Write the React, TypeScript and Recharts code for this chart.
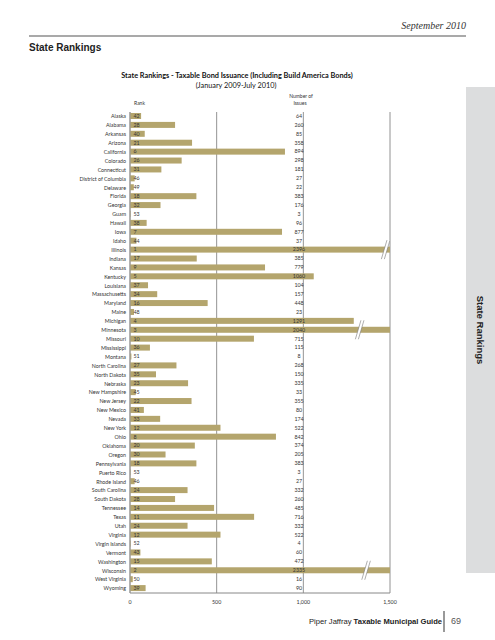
import { Bar, BarChart, CartesianGrid, LabelList, XAxis, YAxis } from "recharts";

const states = [
  "Alaska", "Alabama", "Arkansas", "Arizona", "California", "Colorado", "Connecticut",
  "District of Columbia", "Delaware", "Florida", "Georgia", "Guam", "Hawaii", "Iowa", "Idaho",
  "Illinois", "Indiana", "Kansas", "Kentucky", "Louisiana", "Massachusetts", "Maryland", "Maine",
  "Michigan", "Minnesota", "Missouri", "Mississippi", "Montana", "North Carolina", "North Dakota",
  "Nebraska", "New Hampshire", "New Jersey", "New Mexico", "Nevada", "New York", "Ohio",
  "Oklahoma", "Oregon", "Pennsylvania", "Puerto Rico", "Rhode Island", "South Carolina",
  "South Dakota", "Tennessee", "Texas", "Utah", "Virginia", "Virgin Islands", "Vermont",
  "Washington", "Wisconsin", "West Virginia", "Wyoming",
];

const ranks = [
  42, 28, 40, 21, 6, 26, 31, 46, 49, 18, 32, 53, 38, 7, 44, 1, 17, 9, 5, 37, 34, 16, 48, 4, 3, 10,
  36, 51, 27, 35, 23, 45, 22, 41, 33, 12, 8, 20, 30, 18, 53, 46, 24, 28, 14, 11, 24, 12, 52, 43,
  15, 2, 50, 39,
];

const issues = [
  64, 260, 85, 358, 894, 298, 181, 27, 22, 383, 176, 3, 96, 877, 37, 2396, 385, 779, 1060, 104,
  157, 448, 23, 1291, 2040, 715, 115, 8, 268, 150, 335, 33, 355, 80, 174, 522, 842, 374, 205, 383,
  3, 27, 332, 260, 485, 716, 332, 522, 4, 60, 472, 2335, 16, 90,
];

const xTicks = [0, 500, 1000, 1500];

// where the "//" break sits on the bars that run past the axis (in issue units)
const breakAt: Record<string, number> = { Illinois: 1475, Minnesota: 1325, Wisconsin: 1362 };

const CAP = 1500;
const COUNT_COLUMN = 975;
const BAR = "#b4a56d";
const TXT = "#333";
const chartFont = "Lato, 'Open Sans', sans-serif";

const rows = states.map((state, i) => ({
  state,
  rank: ranks[i],
  issues: issues[i],
  shown: Math.min(issues[i], CAP),
}));

function BrokenBar(props: any) {
  const { x, y, width, height, payload } = props;
  const rect = <rect x={x} y={y} width={width} height={height} fill={BAR} />;
  const b = breakAt[payload.state];
  if (!b || payload.issues <= CAP) return rect;
  const bx = x + (width * b) / payload.shown;
  const cy = y + height / 2;
  const h = 9.5, lean = 2.8, gap = 1.5;
  return (
    <g>
      {rect}
      <polygon
        points={`${bx - gap - lean},${cy + h} ${bx - gap + lean},${cy - h} ${bx + gap + lean},${cy - h} ${bx + gap - lean},${cy + h}`}
        fill="#fff"
      />
      <line x1={bx - gap - lean} y1={cy + h} x2={bx - gap + lean} y2={cy - h} stroke="#777" strokeWidth={0.6} />
      <line x1={bx + gap - lean} y1={cy + h} x2={bx + gap + lean} y2={cy - h} stroke="#777" strokeWidth={0.6} />
    </g>
  );
}

function StateTick(p: any) {
  return (
    <text x={p.x} y={p.y} dy="0.35em" textAnchor="end" fontSize={5.3} fill={TXT} fontFamily={chartFont}>
      {p.payload.value}
    </text>
  );
}

function RankLabel(p: any) {
  return (
    <text x={p.x + 3.5} y={p.y + p.height / 2} dy="0.35em" fontSize={5.3} fill={TXT} fontFamily={chartFont}>
      {p.value}
    </text>
  );
}

function CountLabel(p: any) {
  const row = rows[p.index];
  const px = row ? p.width / row.shown : 0;
  return (
    <text
      x={p.x + COUNT_COLUMN * px}
      y={p.y + p.height / 2}
      dy="0.35em"
      fontSize={5.3}
      textAnchor="middle"
      fill={TXT}
      fontFamily={chartFont}
    >
      {p.value}
    </text>
  );
}

export default function App() {
  return (
    <div style={{ position: "absolute", left: 0, top: 0, width: 495, height: 640, background: "#fff" }}>
      <svg width={495} height={640} style={{ position: "absolute", left: 0, top: 0 }}>
        <text x={466} y={25} dominantBaseline="central" textAnchor="end" fontSize={10} fontStyle="italic"
          fontFamily="'Liberation Serif', serif" fill={TXT}>September 2010</text>
        <line x1={29} x2={466} y1={36} y2={36} stroke="#555" strokeWidth={1.2} />
        <text x={29} y={47.5} dominantBaseline="central" fontSize={10} fontWeight="bold"
          fontFamily="'Liberation Sans', Arial, sans-serif" fill="#222">State Rankings</text>

        <text x={237} y={75} dominantBaseline="central" textAnchor="middle" fontSize={7.3} fontWeight="bold"
          fontFamily={chartFont} fill="#111">
          State Rankings - Taxable Bond Issuance (Including Build America Bonds)
        </text>
        <text x={236} y={85.5} dominantBaseline="central" textAnchor="middle" fontSize={7.3}
          fontFamily={chartFont} fill="#111">(January 2009-July 2010)</text>
        <text x={139.5} y={103} dominantBaseline="central" textAnchor="middle" fontSize={5}
          fontFamily={chartFont} fill={TXT}>Rank</text>
        <text x={301} y={96} dominantBaseline="central" textAnchor="middle" fontSize={5}
          fontFamily={chartFont} fill={TXT}>Number of</text>
        <text x={300} y={103} dominantBaseline="central" textAnchor="middle" fontSize={5}
          fontFamily={chartFont} fill={TXT}>Issues</text>

        <rect x={466} y={87} width={29} height={486} fill="#dcddde" />
        <text x={480} y={330} dominantBaseline="central" textAnchor="middle" fontSize={9.5} fontWeight="bold"
          fontFamily="'Liberation Sans', Arial, sans-serif" fill="#222" transform="rotate(90 480 330)">
          State Rankings
        </text>

        <text x={309} y={621} dominantBaseline="central" fontSize={7.6}
          fontFamily="'Liberation Sans', Arial, sans-serif" fill="#222">
          Piper Jaffray <tspan fontWeight="bold">Taxable Municipal Guide</tspan>
        </text>
        <line x1={444} x2={444} y1={611} y2={632} stroke="#777" strokeWidth={1.5} />
        <text x={451} y={621} dominantBaseline="central" fontSize={9}
          fontFamily="'Liberation Sans', Arial, sans-serif" fill="#555">69</text>
      </svg>

      <div style={{ position: "absolute", left: 0, top: 0 }}>
        <BarChart
          width={495}
          height={640}
          data={rows}
          layout="vertical"
          margin={{ top: 112, right: 105, bottom: 27, left: 0 }}
        >
          <CartesianGrid horizontal={false} stroke="#777" strokeWidth={0.8} />
          <XAxis
            type="number"
            domain={[0, CAP]}
            ticks={xTicks}
            allowDataOverflow
            height={20}
            tickLine={false}
            tickSize={0}
            tickMargin={7}
            axisLine={{ stroke: "#888" }}
            tick={{ fontSize: 5.3, fill: TXT, fontFamily: chartFont }}
            tickFormatter={(v: number) => v.toLocaleString("en-US")}
          />
          <YAxis
            type="category"
            dataKey="state"
            width={130}
            interval={0}
            tickLine={false}
            tickSize={0}
            tickMargin={4}
            axisLine={{ stroke: "#999" }}
            tick={StateTick}
          />
          <Bar dataKey="shown" barSize={6} shape={BrokenBar} isAnimationActive={false}>
            <LabelList dataKey="rank" content={RankLabel} />
            <LabelList dataKey="issues" content={CountLabel} />
          </Bar>
        </BarChart>
      </div>
    </div>
  );
}
